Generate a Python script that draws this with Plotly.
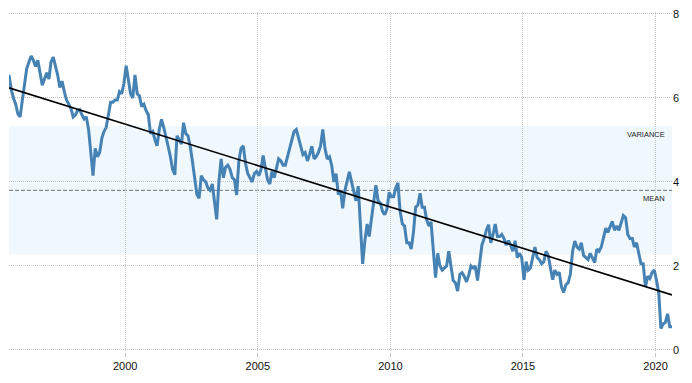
import pandas as pd
import plotly.graph_objects as go

# Monthly yield readings (Aug 1995 - Aug 2020)
y1995 = [6.55, 6.20, 6.00, 5.85, 5.62]
y1996 = [5.55, 5.95, 6.35, 6.70, 6.85, 7.00, 6.90, 6.75, 6.90, 6.55, 6.30, 6.45]
y1997 = [6.60, 6.45, 6.85, 6.97, 6.75, 6.55, 6.25, 6.40, 6.15, 5.95, 5.85, 5.75]
y1998 = [5.55, 5.60, 5.70, 5.72, 5.60, 5.50, 5.55, 5.25, 4.70, 4.15, 4.80, 4.60]
y1999 = [4.70, 5.05, 5.20, 5.30, 5.60, 5.90, 5.90, 5.95, 5.95, 6.15, 6.10, 6.35]
y2000 = [6.77, 6.45, 6.10, 6.00, 6.55, 6.10, 6.05, 5.80, 5.85, 5.70, 5.60, 5.15]
y2001 = [5.20, 5.00, 4.86, 5.25, 5.49, 5.30, 5.10, 4.85, 4.60, 4.30, 4.17, 5.10]
y2002 = [5.00, 4.90, 5.41, 5.15, 5.10, 4.85, 4.50, 4.15, 3.70, 3.61, 4.15, 4.05]
y2003 = [4.00, 3.85, 3.80, 3.95, 3.50, 3.11, 4.00, 4.55, 4.10, 4.35, 4.40, 4.30]
y2004 = [4.10, 4.05, 3.69, 4.50, 4.80, 4.86, 4.45, 4.20, 4.10, 4.00, 4.20, 4.25]
y2005 = [4.15, 4.30, 4.63, 4.30, 4.05, 3.95, 4.25, 4.10, 4.35, 4.55, 4.50, 4.40]
y2006 = [4.40, 4.60, 4.80, 5.05, 5.20, 5.25, 5.05, 4.85, 4.65, 4.70, 4.50, 4.65]
y2007 = [4.85, 4.55, 4.60, 4.70, 4.85, 5.25, 4.80, 4.55, 4.60, 4.40, 4.00, 4.20]
y2008 = [3.70, 3.80, 3.37, 3.80, 4.05, 4.24, 4.00, 3.80, 3.55, 3.90, 3.00, 2.05]
y2009 = [2.60, 3.00, 2.70, 3.10, 3.45, 3.92, 3.55, 3.50, 3.30, 3.22, 3.35, 3.75]
y2010 = [3.65, 3.65, 3.85, 3.98, 3.30, 3.00, 2.95, 2.55, 2.55, 2.40, 2.80, 3.40]
y2011 = [3.45, 3.73, 3.40, 3.40, 3.10, 2.95, 3.05, 2.30, 1.72, 2.30, 2.00, 1.90]
y2012 = [1.95, 2.00, 2.35, 1.95, 1.65, 1.60, 1.40, 1.80, 1.84, 1.75, 1.62, 1.78]
y2013 = [2.00, 1.95, 2.00, 1.65, 2.15, 2.50, 2.65, 2.85, 2.98, 2.55, 2.75, 3.00]
y2014 = [2.70, 2.70, 2.75, 2.65, 2.50, 2.60, 2.50, 2.35, 2.60, 2.20, 2.30, 2.20]
y2015 = [1.67, 2.10, 1.90, 1.95, 2.20, 2.45, 2.20, 2.15, 2.05, 2.10, 2.35, 2.25]
y2016 = [1.95, 1.67, 1.90, 1.80, 1.85, 1.50, 1.37, 1.55, 1.60, 1.80, 2.35, 2.59]
y2017 = [2.45, 2.40, 2.55, 2.25, 2.20, 2.15, 2.30, 2.20, 2.08, 2.40, 2.35, 2.45]
y2018 = [2.70, 2.90, 2.80, 2.95, 3.06, 2.85, 2.95, 2.85, 3.05, 3.20, 3.15, 2.75]
y2019 = [2.65, 2.65, 2.45, 2.55, 2.30, 2.05, 2.05, 1.50, 1.75, 1.70, 1.85, 1.90]
y2020 = [1.65, 1.35, 0.51, 0.62, 0.65, 0.86, 0.55, 0.55]

values = (y1995 + y1996 + y1997 + y1998 + y1999 + y2000 + y2001 + y2002 + y2003
          + y2004 + y2005 + y2006 + y2007 + y2008 + y2009 + y2010 + y2011 + y2012
          + y2013 + y2014 + y2015 + y2016 + y2017 + y2018 + y2019 + y2020)
dates = pd.date_range("1995-08-01", periods=len(values), freq="MS") + pd.Timedelta(days=14)

MEAN = 3.80
STD = 1.53
TREND_START = 6.24
TREND_END = 1.31
y_ticks = [0, 2, 4, 6, 8]

LINE = "#4682b4"
GRID = "#c4c4c4"
FONT = "Liberation Sans, Arial, sans-serif"

fig = go.Figure()
fig.add_trace(go.Scatter(x=dates, y=values, mode="lines",
                         line=dict(color=LINE, width=3), hoverinfo="skip"))
fig.add_trace(go.Scatter(x=[dates[0], dates[-1]], y=[TREND_START, TREND_END],
                         mode="lines", line=dict(color="#000000", width=1.6),
                         hoverinfo="skip"))

fig.add_shape(type="rect", xref="paper", yref="y", x0=0, x1=1,
              y0=MEAN - STD, y1=MEAN + STD, fillcolor="#f0f8fe",
              line=dict(width=0), layer="below")
fig.add_shape(type="line", xref="paper", yref="y", x0=0, x1=1,
              y0=MEAN, y1=MEAN, line=dict(color="#707070", width=1, dash="4px,2px"),
              layer="below")

fig.add_annotation(text="VARIANCE", xref="paper", yref="y", x=0.992, y=5.14,
                   xanchor="right", yanchor="middle", showarrow=False,
                   font=dict(family=FONT, size=7.5, color="#222"))
fig.add_annotation(text="MEAN", xref="paper", yref="y", x=0.992, y=3.61,
                   xanchor="right", yanchor="middle", showarrow=False,
                   font=dict(family=FONT, size=7.5, color="#222"))

fig.update_layout(
    width=692, height=383,
    margin=dict(l=9, r=20, t=8, b=31),
    paper_bgcolor="white", plot_bgcolor="rgba(0,0,0,0)",
    showlegend=False,
    font=dict(family=FONT, size=11, color="#111"),
)
fig.update_xaxes(
    range=[dates[0], dates[-1]], type="date",
    tick0="2000-01-01", dtick="M60", tickformat="%Y",
    showgrid=True, gridcolor=GRID, griddash="1px,1px", gridwidth=1,
    ticks="outside", ticklen=4, tickcolor=GRID,
    showline=False, zeroline=False, ticklabeloverflow="allow",
)
fig.update_yaxes(
    range=[-0.05, 8.047], side="right", tickvals=y_ticks,
    showgrid=True, gridcolor=GRID, griddash="1px,1px", gridwidth=1,
    showline=False, zeroline=False, ticks="", ticklabeloverflow="allow",
)

fig.write_html("out.html", config={"displayModeBar": False},
               post_script="document.body.style.margin='0px';")
